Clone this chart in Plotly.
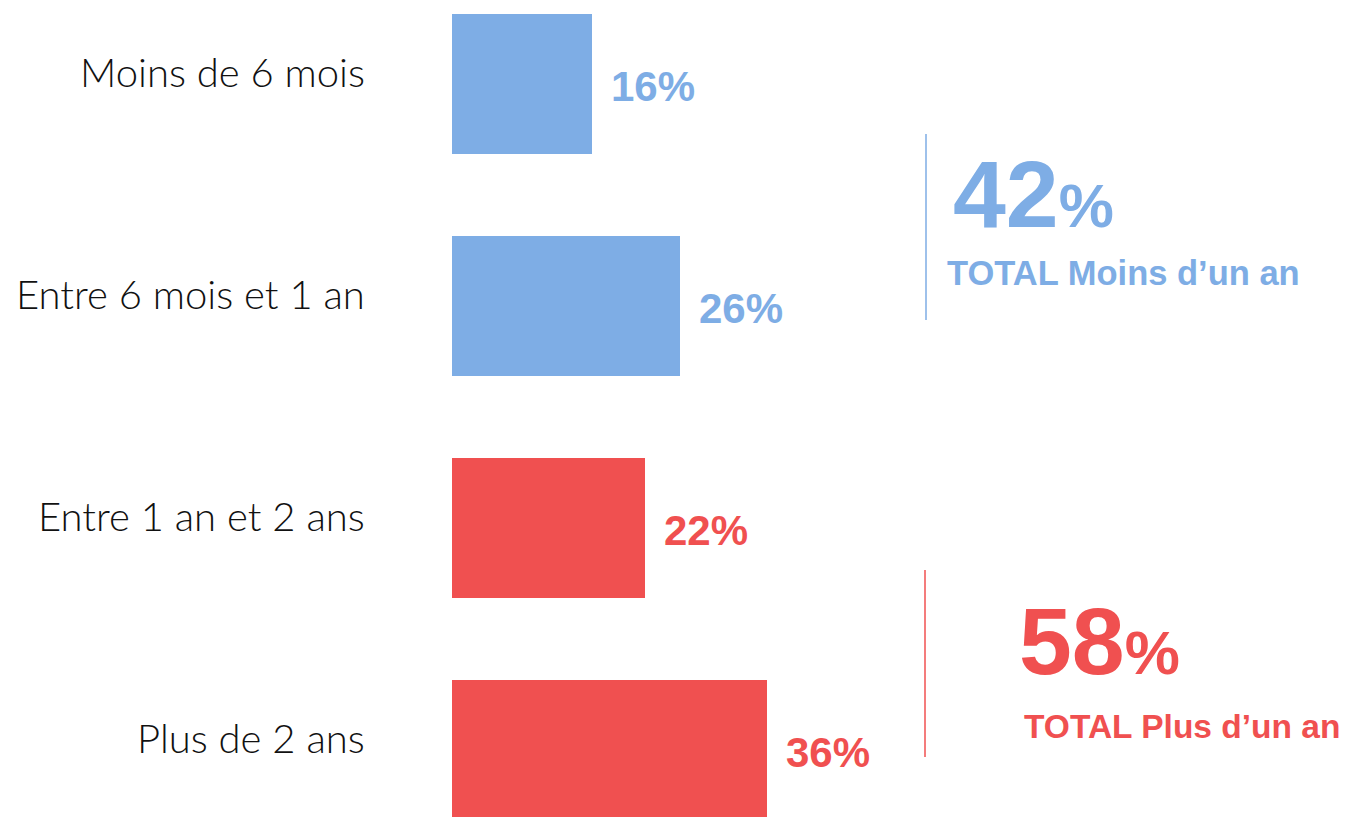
import plotly.graph_objects as go

categories = ["Moins de 6 mois", "Entre 6 mois et 1 an", "Entre 1 an et 2 ans", "Plus de 2 ans"]
values = [16, 26, 22, 36]
groups = ["moins", "moins", "plus", "plus"]
group_colors = {"moins": "#7EADE5", "plus": "#F05050"}
totals = [42, 58]
total_labels = ["TOTAL Moins d\u2019un an", "TOTAL Plus d\u2019un an"]
total_groups = ["moins", "plus"]

W, H = 1355, 817
OFF = 8  # page body margin
px_per_pct = 8.75
bar_left_px = 452 - OFF
x0 = -bar_left_px / px_per_pct
x1 = x0 + W / px_per_pct
row_px = 222.0
first_center_px = 84 - OFF
y_top = -first_center_px / row_px
y_bot = y_top + H / row_px

colors = [group_colors[g] for g in groups]

fig = go.Figure()
fig.add_trace(go.Bar(
    y=categories, x=values, orientation="h",
    marker=dict(color=colors, line=dict(width=0)),
    width=140 / row_px, hoverinfo="skip", showlegend=False,
))

ann = []
for cat, v, c in zip(categories, values, colors):
    ann.append(dict(x=0, y=cat, xref="x", yref="y", text=cat, showarrow=False,
                    xanchor="right", yanchor="middle", xshift=-85, yshift=12,
                    font=dict(family="Lato", size=40, color="#111111", weight=300)))
    ann.append(dict(x=v, y=cat, xref="x", yref="y", text=f"<b>{v}%</b>", showarrow=False,
                    xanchor="left", yanchor="middle", xshift=17, yshift=-2,
                    font=dict(family="Liberation Sans, Arial", size=42, color=c)))

# totals blocks (pixel positions in the page, converted to paper coords)
blocks = [
    dict(num_x=951, num_y=194, lab_x=945, lab_y=273, lab_size=34.5,
         line_x=926, line_y0=134, line_y1=320),
    dict(num_x=1017, num_y=641, lab_x=1022, lab_y=726, lab_size=33.5,
         line_x=925, line_y0=570, line_y1=757),
]
shapes = []
for t, lab, g, b in zip(totals, total_labels, total_groups, blocks):
    c = group_colors[g]
    ann.append(dict(x=(b["num_x"] - OFF) / W, y=1 - (b["num_y"] - OFF) / H, xref="paper", yref="paper",
                    text=f"<b>{t}</b><b><span style='font-size:62px'>%</span></b>",
                    showarrow=False, xanchor="left", yanchor="middle",
                    font=dict(family="Liberation Sans, Arial", size=95, color=c)))
    ann.append(dict(x=(b["lab_x"] - OFF) / W, y=1 - (b["lab_y"] - OFF) / H, xref="paper", yref="paper",
                    text=f"<b>{lab}</b>", showarrow=False, xanchor="left", yanchor="middle",
                    font=dict(family="Liberation Sans, Arial", size=b["lab_size"], color=c)))
    shapes.append(dict(type="line", xref="paper", yref="paper",
                       x0=(b["line_x"] - OFF) / W, x1=(b["line_x"] - OFF) / W,
                       y0=1 - (b["line_y0"] - OFF) / H, y1=1 - (b["line_y1"] - OFF) / H,
                       line=dict(color=c, width=1.5)))

fig.update_layout(
    width=W, height=H,
    margin=dict(l=0, r=0, t=0, b=0),
    paper_bgcolor="white", plot_bgcolor="white",
    xaxis=dict(range=[x0, x1], visible=False, fixedrange=True),
    yaxis=dict(type="category", categoryorder="array", categoryarray=categories,
               range=[y_bot, y_top], visible=False, fixedrange=True),
    annotations=ann, shapes=shapes,
    bargap=0,
)

fig.write_html("out.html")
